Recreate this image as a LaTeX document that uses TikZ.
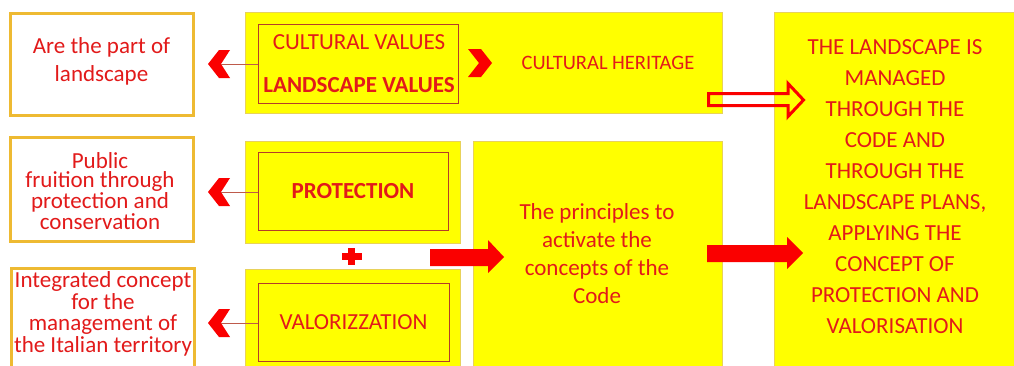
\documentclass[tikz,border=0pt]{standalone}
\usepackage{fontspec}
\setmainfont{Carlito}
\definecolor{txtred}{RGB}{226,26,26}
\definecolor{arrred}{RGB}{250,0,0}
\definecolor{boxyellow}{RGB}{255,255,0}
\definecolor{yedge}{RGB}{232,210,90}
\definecolor{goldedge}{RGB}{238,186,50}
\definecolor{inneredge}{RGB}{180,60,40}
\definecolor{linkred}{RGB}{190,90,75}

\newcommand\fsMain{\fontsize{23}{28}\selectfont}
\newcommand\fsSmall{\fontsize{23}{19.5}\selectfont}
\newcommand\fsTight{\fontsize{23}{21.5}\selectfont}
\newcommand\fsRight{\fontsize{23}{31}\selectfont}

\tikzset{
  whitebox/.style={draw=goldedge, line width=3pt, fill=white, inner sep=0pt},
  ybox/.style={draw=yedge, line width=0.8pt, fill=boxyellow, inner sep=0pt},
  innerbox/.style={draw=inneredge, line width=1pt, inner sep=0pt, text=txtred, align=center},
  lbl/.style={text=txtred, align=center, inner sep=0pt},
  link/.style={draw=linkred, line width=1pt},
  blockarrow/.style={fill=arrred, draw=none},
  hollowarrow/.style={draw=arrred, line width=3pt, line join=miter},
  chevleft/.pic={\fill[arrred] (0,0) -- (11,-14) -- (22,-14) -- (13,0) -- (22,14) -- (11,14) -- cycle;},
  chevright/.pic={\fill[arrred] (0,0) -- (-11,-14) -- (-24,-14) -- (-13,0) -- (-24,14) -- (-11,14) -- cycle;},
}

\begin{document}
\begin{tikzpicture}[x=1pt,y=-1pt]
\useasboundingbox (0,0) rectangle (1014,365);

% left column: white boxes
\node[whitebox, minimum width=183pt, minimum height=102pt] (b1) at (101.5,64) {};
\node[lbl, font=\fsMain] (t1) at (101.5,61) {Are the part of\\landscape};
\node[whitebox, minimum width=183pt, minimum height=104pt] (b2) at (101.5,189) {};
\node[lbl, font=\fsSmall] (t2) at (100,191) {Public\\fruition through\\protection and\\conservation};
\node[whitebox, minimum width=183pt, minimum height=108pt, anchor=north west] (b3) at (10,267) {};
\node[lbl, font=\fsTight] (t3) at (103,314) {Integrated concept\\for the\\management of\\the Italian territory};

% top yellow panel with the values
\node[ybox, minimum width=477pt, minimum height=101pt] (top) at (483.5,62.5) {};
\node[innerbox, minimum width=200pt, minimum height=79pt] (vals) at (358,63.5) {};
\node[lbl, font=\fsMain] (cv) at (359,42) {CULTURAL VALUES};
\node[lbl, font=\fsMain\bfseries] (lv) at (359,85) {LANDSCAPE VALUES};
\node[lbl, font=\fontsize{20.5}{24}\selectfont] (ch) at (608,63) {CULTURAL HERITAGE};

% protection / valorization panels
\node[ybox, minimum width=215pt, minimum height=102pt] (protY) at (352.5,192) {};
\node[innerbox, minimum width=190pt, minimum height=78pt, font=\fsMain\bfseries] (prot) at (353,191) {PROTECTION};
\node[ybox, minimum width=215pt, minimum height=106pt, anchor=north west] (valY) at (245,269) {};
\node[innerbox, minimum width=191pt, minimum height=78pt, font=\fsMain] (val) at (353.5,322) {VALORIZZATION};

% principles panel
\node[ybox, minimum width=249pt, minimum height=234pt, anchor=north west] (princ) at (473,141) {};
\node[lbl, font=\fsMain] (tp) at (597,254) {The principles to\\activate the\\concepts of the\\Code};

% management panel
\node[ybox, minimum width=240pt, minimum height=363pt, anchor=north west] (mng) at (774,12) {};
\node[lbl, font=\fsRight] (tm) at (895,187) {THE LANDSCAPE IS\\MANAGED\\THROUGH THE\\CODE AND\\THROUGH THE\\LANDSCAPE PLANS,\\APPLYING THE\\CONCEPT OF\\PROTECTION AND\\VALORISATION};

% chevrons pointing to the left column, with their links
\coordinate (c1) at (208,64);
\coordinate (c2) at (208,192);
\coordinate (c3) at (208,323);
\pic at (c1) {chevleft};
\pic at (c2) {chevleft};
\pic at (c3) {chevleft};
\draw[link] ([xshift=13pt]c1) -- (vals.west |- c1);
\draw[link] ([xshift=13pt]c2) -- (prot.west |- c2);
\draw[link] ([xshift=13pt]c3) -- (val.west |- c3);

% chevron towards cultural heritage
\coordinate (c4) at (492,63);
\pic at (c4) {chevright};

% plus sign
\coordinate (plus) at (351.5,256);
\fill[arrred] ([xshift=-10pt,yshift=3.5pt]plus) rectangle ([xshift=10pt,yshift=-3.5pt]plus);
\fill[arrred] ([xshift=-3.5pt,yshift=8.5pt]plus) rectangle ([xshift=3.5pt,yshift=-8.5pt]plus);

% block arrows
\draw[hollowarrow] (708.5,93.5) -- (788,93.5) -- (788,83.5) -- (803.5,100) -- (788,116.5) -- (788,105.5) -- (708.5,105.5) -- cycle;
\fill[blockarrow] (430,249) -- (488,249) -- (488,240) -- (504,257) -- (488,273) -- (488,266) -- (430,266) -- cycle;
\fill[blockarrow] (707,245) -- (787,245) -- (787,237) -- (803,253) -- (787,269) -- (787,262) -- (707,262) -- cycle;
\end{tikzpicture}
\end{document}
